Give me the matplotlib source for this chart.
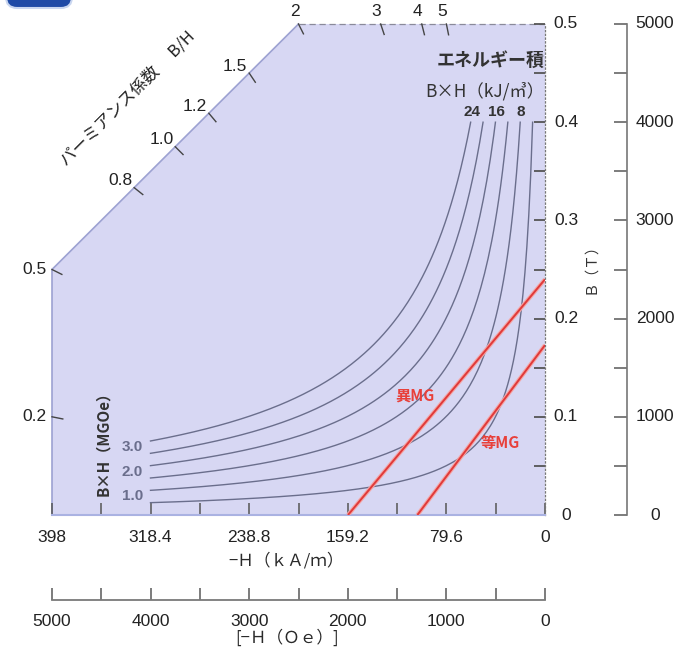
import numpy as np
import matplotlib
matplotlib.use('Agg')
from matplotlib import pyplot as plt
from matplotlib.patches import Polygon, FancyBboxPatch
from matplotlib.transforms import IdentityTransform

plt.rcParams['font.family'] = ['Liberation Sans', 'Noto Sans CJK JP', 'DejaVu Sans']
CJK = ['Noto Sans CJK JP', 'DejaVu Sans']

# ---- data ----
OE_TO_KAM = 0.0795775          # 1 Oe in kA/m
Oe_ticks = [5000, 4000, 3000, 2000, 1000, 0]
Oe_minor = [4500, 3500, 2500, 1500, 500]
H_labels_kAm = ['398', '318.4', '238.8', '159.2', '79.6', '0']
B_ticks_T = [0, 0.1, 0.2, 0.3, 0.4, 0.5]
B_minor_T = [0.05, 0.15, 0.25, 0.35, 0.45]
G_ticks = [0, 1000, 2000, 3000, 4000, 5000]
G_minor = [500, 1500, 2500, 3500, 4500]

energy_kJ = [24, 20, 16, 12, 8, 4]              # B x H iso lines (kJ/m3)
energy_top_labels = {24: '24', 16: '16', 8: '8'}
energy_left_labels = {24: '3.0', 16: '2.0', 8: '1.0'}
B_curve_top = 0.4
H_curve_left = 318.4

# permeance coefficient B/H (G/Oe)
perm_left = [0.2, 0.5]
perm_diag = [0.8, 1.0, 1.2, 1.5]
perm_top = [2, 3, 4, 5]
H_edge_Oe = 5000
B_edge_G = 5000

# demagnetization lines (Br [T], Hc [kA/m])
aniso_Br, aniso_Hc = 0.24, 159.0
iso_Br, iso_Hc = 0.173, 103.0

W, HH = 680, 652
def fx(px): return px / W
def fy(py): return 1 - py / HH

fig = plt.figure(figsize=(6.8, 6.52), dpi=100)

# badge cut at top-left
fig.patches.append(FancyBboxPatch((6, HH - 8), 66, 30, boxstyle='round,pad=0,rounding_size=11',
                                  transform=IdentityTransform(), facecolor='#1f4aa6',
                                  edgecolor='#c9d6f0', lw=1.5))

ax = fig.add_axes([fx(52), fy(515), fx(545) - fx(52), fy(24) - fy(515)])
Hmax = H_edge_Oe * OE_TO_KAM
ax.set_xlim(Hmax, 0)
ax.set_ylim(0, 0.5)
ax.patch.set_visible(False)

# lavender region
p_lo, p_hi = perm_left[-1], perm_top[0]
poly = [(Hmax, 0), (Hmax, p_lo * H_edge_Oe / 1e4),
        (B_edge_G / p_hi * OE_TO_KAM, B_edge_G / 1e4), (0, B_edge_G / 1e4), (0, 0)]
ax.add_patch(Polygon(poly, closed=True, facecolor='#d7d7f3', edgecolor='none', zorder=0))
ax.plot([poly[0][0], poly[1][0], poly[2][0]], [poly[0][1], poly[1][1], poly[2][1]],
        color='#9da2d2', lw=1.2, clip_on=False, zorder=1)
ax.plot([poly[2][0], poly[3][0]], [poly[2][1], poly[3][1]], color='#8a8a9a', lw=0.9,
        ls=(0, (5, 3)), clip_on=False, zorder=1)

for s in ['left', 'top']:
    ax.spines[s].set_visible(False)
ax.spines['bottom'].set_color('#aab2e2')
ax.spines['bottom'].set_linewidth(1.5)
ax.spines['right'].set_color('#777777')
ax.spines['right'].set_linewidth(0.9)
ax.spines['right'].set_linestyle((0, (1, 2)))

# bottom kA/m axis
ax.set_xticks([v * OE_TO_KAM for v in Oe_ticks])
ax.set_xticklabels(H_labels_kAm)
ax.set_xticks([v * OE_TO_KAM for v in Oe_minor], minor=True)
ax.tick_params(axis='x', which='both', direction='in', length=8.6, width=1.1, color='#555555',
               labelsize=12.5, pad=11, labelcolor='#222222')

# right B axis (labels drawn as text, centred)
ax.yaxis.tick_right()
ax.set_yticks(B_ticks_T)
ax.set_yticks(B_minor_T, minor=True)
ax.tick_params(axis='y', which='both', direction='in', length=8, width=1.3, color='#555555',
               labelright=False)
for v in B_ticks_T:
    ax.annotate('0' if v == 0 else '%.1f' % v, (1, v), xycoords=('axes fraction', 'data'),
                xytext=(21, 0), textcoords='offset pixels', ha='center', va='center',
                fontsize=12.5, color='#222222', annotation_clip=False)
ax.text(1.0 + 45 / 493, (515 - 265) / 491, 'Ｂ（Ｔ）', transform=ax.transAxes, rotation=90,
        ha='center', va='center', fontsize=10.5, family=CJK, color='#333333')
ax.text(1 - (545 - 286) / 493, -(561 - 515) / 491, '−Ｈ（ｋＡ/ｍ）', transform=ax.transAxes,
        ha='center', va='center', family=CJK, fontsize=12, color='#2a2a2a')

# energy product iso lines
for E in energy_kJ:
    h = np.linspace(E / B_curve_top, H_curve_left, 200)
    ax.plot(h, E / h, color='#6a6e8c', lw=1.0, zorder=2)
    if E in energy_top_labels:
        ax.annotate(energy_top_labels[E], (E / B_curve_top, B_curve_top), xytext=(1, 10),
                    textcoords='offset pixels', ha='center', va='center', fontsize=11,
                    fontweight='bold', color='#333333')
    if E in energy_left_labels:
        ax.annotate(energy_left_labels[E], (H_curve_left, E / H_curve_left), xytext=(-18, -6),
                    textcoords='offset pixels', ha='center', va='center', fontsize=11,
                    fontweight='bold', color='#6a6e8c')

ax.text(0.5, 0.5 - 0.037, 'エネルギー積', ha='right', va='center', fontsize=13,
        fontweight='bold', family=CJK, color='#333333')
ax.text(0.5, 0.5 - 0.068, 'B×H（kJ/㎥）', ha='right', va='center', fontsize=12.5,
        family=CJK, color='#333333')
ax.text(356.8, 0.0764, 'B×H（MGOe）', rotation=90, ha='center', va='center', fontsize=11,
        fontweight='bold', family=CJK, color='#333333')

# demagnetization lines
for Br, Hc in [(aniso_Br, aniso_Hc), (iso_Br, iso_Hc)]:
    ax.plot([Hc, 0], [0, Br], color='#f4a6a6', lw=3.0, zorder=3, solid_capstyle='butt')
    ax.plot([Hc, 0], [0, Br], color='#e03a3a', lw=1.4, zorder=4, solid_capstyle='butt')
ax.text(104.9, 0.122, '異MG', ha='center', va='center', fontsize=11, color='#e8403a',
        family=CJK, fontweight='bold')
ax.text(36.3, 0.0733, '等MG', ha='center', va='center', fontsize=11, color='#e8403a',
        family=CJK, fontweight='bold')

# permeance scale
fig.canvas.draw()
def perm_mark(H_Oe, B_G, offset, label, length=11):
    hk, bt = H_Oe * OE_TO_KAM, B_G / 1e4
    x0, y0 = ax.transData.transform((hk, bt))
    xo, yo = ax.transData.transform((0, 0))
    d = np.hypot(xo - x0, yo - y0)
    h1, b1 = ax.transData.inverted().transform((x0 + (xo - x0) / d * length,
                                                 y0 + (yo - y0) / d * length))
    ax.plot([hk, h1], [bt, b1], color='#444444', lw=1.0, clip_on=False, zorder=5)
    ax.annotate(label, (hk, bt), xytext=offset, textcoords='offset pixels', ha='center',
                va='center', fontsize=12.5, color='#222222', annotation_clip=False)

def fmt(p):
    return '%g' % p if p >= 2 or p < 0.8 else '%.1f' % p

for p in perm_left:
    perm_mark(H_edge_Oe, p * H_edge_Oe, (-18, 0), fmt(p))
diag_sum = H_edge_Oe + p_lo * H_edge_Oe
for p in perm_diag:
    h = diag_sum / (1 + p)
    perm_mark(h, p * h, (-14, 7), fmt(p))
for p in perm_top:
    perm_mark(B_edge_G / p, B_edge_G, (-4, 12), fmt(p))

ax.text(1 - (545 - 128) / 493, (515 - 98) / 491, 'パーミアンス係数　 B/H', rotation=45,
        rotation_mode='anchor', transform=ax.transAxes,
        ha='center', va='center', fontsize=12, family=CJK, color='#222222')

# Gauss axis (far right)
axg = fig.add_axes([fx(627), fy(515), 0.001, fy(24) - fy(515)])
axg.set_ylim(0, 5000)
axg.patch.set_visible(False)
axg.set_xticks([])
for s in ['right', 'top', 'bottom']:
    axg.spines[s].set_visible(False)
axg.spines['left'].set_color('#777777')
axg.spines['left'].set_linewidth(1.2)
axg.set_yticks(G_ticks)
axg.set_yticks(G_minor, minor=True)
axg.tick_params(axis='y', which='both', left=True, right=False, labelleft=False,
                labelright=False, direction='out', length=9.4, width=1.2, color='#666666')
for g in G_ticks:
    axg.annotate(str(g), (0, g), xycoords=('axes fraction', 'data'), xytext=(28, 0),
                 textcoords='offset pixels', ha='center', va='center', fontsize=12.5,
                 color='#222222', annotation_clip=False)

# Oe axis (bottom)
axo = fig.add_axes([fx(52), fy(600), fx(545) - fx(52), 0.001])
axo.set_xlim(H_edge_Oe, 0)
axo.patch.set_visible(False)
axo.set_yticks([])
for s in ['left', 'right', 'top']:
    axo.spines[s].set_visible(False)
axo.spines['bottom'].set_color('#7a7a7a')
axo.spines['bottom'].set_linewidth(1.3)
axo.set_xticks(Oe_ticks)
axo.set_xticks(Oe_minor, minor=True)
axo.tick_params(axis='x', which='both', direction='in', length=8.6, width=1.2, color='#666666',
                labelsize=12.5, pad=10, labelcolor='#222222')
fig.text(fx(287), fy(638), '[−Ｈ（Ｏｅ）]', family=CJK, fontsize=12, color='#2a2a2a',
         ha='center', va='center')

fig.savefig('out.png', dpi=100)
